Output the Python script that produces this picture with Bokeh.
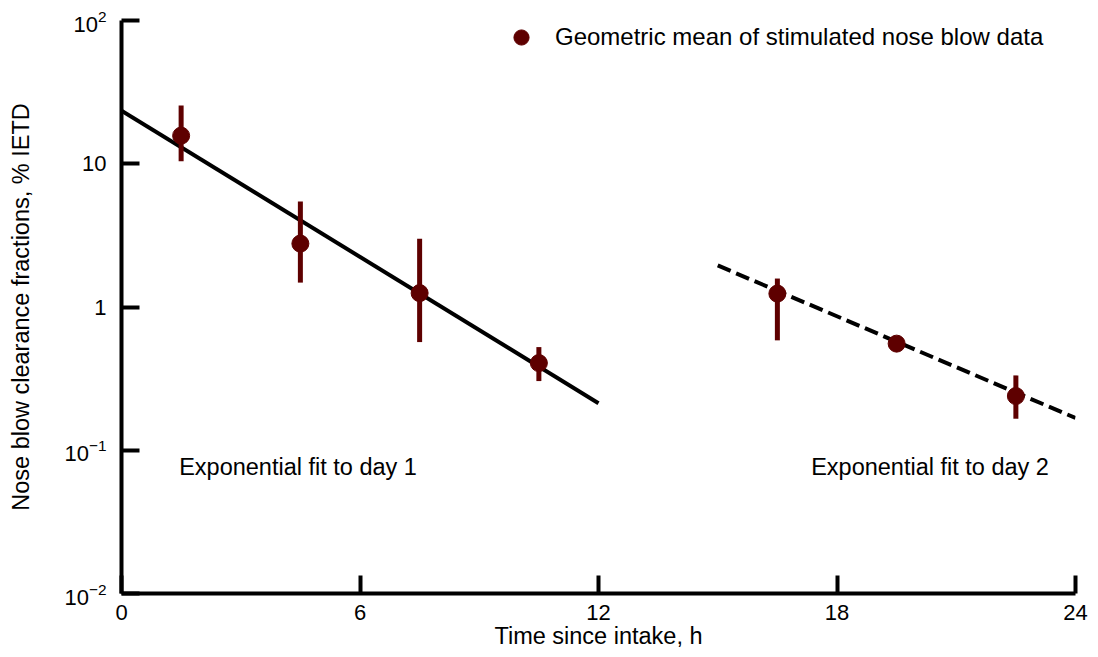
from bokeh.plotting import figure
from bokeh.models import FixedTicker, Legend, LegendItem, ColumnDataSource
from bokeh.core.properties import value
from bokeh.embed import file_html
from bokeh.resources import INLINE

# ---- data ----
time_h = [1.5, 4.5, 7.5, 10.5, 16.5, 19.5, 22.5]
geo_mean = [15.7, 2.77, 1.25, 0.406, 1.24, 0.555, 0.239]
err_low = [10.4, 1.48, 0.569, 0.304, 0.585, 0.555, 0.166]
err_high = [25.5, 5.46, 3.0, 0.525, 1.58, 0.555, 0.333]

fit_day1_t = [0, 12]
fit_day1_y = [23.5, 0.213]
fit_day2_t = [15, 24]
fit_day2_y = [1.95, 0.168]

x_ticks = [0, 6, 12, 18, 24]
y_ticks = [0.01, 0.1, 1, 10, 100]
# ticks 1 and 10 are written plainly; the others keep the 10^n form
y_plain_ticks = [1, 10]
y_plain_labels = ["1", "10"]

annot_text = ["Exponential fit to day 1", "Exponential fit to day 2"]
annot_x = [1.45, 17.35]
annot_y = [0.076, 0.076]

FONT = "Liberation Sans"
RED = "#5e0000"
TXT = "23.5px"
TICK = "22px"

p = figure(width=1098, height=657, x_range=(0, 24), y_range=(0.01, 100),
           y_axis_type="log", output_backend="svg", toolbar_location=None,
           min_border_left=121, min_border_right=23, min_border_top=20,
           min_border_bottom=64)
p.outline_line_color = None
p.xgrid.visible = False
p.ygrid.visible = False

src = ColumnDataSource(dict(t=time_h, m=geo_mean, lo=err_low, hi=err_high))

# fits
p.line(fit_day1_t, fit_day1_y, line_color="black", line_width=4)
p.line(fit_day2_t, fit_day2_y, line_color="black", line_width=4, line_dash="14 6")

# error bars and points
p.segment(x0="t", y0="lo", x1="t", y1="hi", source=src, line_color=RED, line_width=5)
pts = p.scatter(x="t", y="m", source=src, size=17, fill_color=RED, line_color=RED)

p.text(x=annot_x, y=annot_y, text=annot_text, text_font=value(FONT),
       text_font_size=TXT, text_baseline="middle", text_align="left",
       text_color="black")

# axes
for ax in (p.xaxis[0], p.yaxis[0]):
    ax.axis_line_width = 4
    ax.axis_line_color = "black"
    ax.major_tick_line_width = 4
    ax.major_tick_line_color = "black"
    ax.major_tick_in = 18
    ax.major_tick_out = 0
    ax.minor_tick_line_color = None
    ax.major_label_text_font = FONT
    ax.major_label_text_font_size = TICK
    ax.major_label_text_color = "black"
    ax.axis_label_text_font = FONT
    ax.axis_label_text_font_size = TXT
    ax.axis_label_text_font_style = "normal"
    ax.axis_label_text_color = "black"

p.xaxis.ticker = FixedTicker(ticks=x_ticks)
p.xaxis.axis_label = "Time since intake, h"
p.xaxis.major_label_standoff = 11
p.xaxis.axis_label_standoff = 0

p.yaxis.ticker = FixedTicker(ticks=y_ticks)
p.yaxis.major_label_overrides = {t: l for t, l in zip(y_plain_ticks, y_plain_labels)}
p.yaxis.axis_label = "Nose blow clearance fractions, % IETD"
p.yaxis.major_label_standoff = 15
p.yaxis.axis_label_standoff = 27

legend = Legend(items=[LegendItem(label="Geometric mean of stimulated nose blow data", renderers=[pts])],
                location=(381, 537), glyph_width=38, glyph_height=38, label_standoff=15,
                padding=0, margin=0, border_line_color=None, background_fill_alpha=0,
                label_text_font=FONT, label_text_font_size="24px", label_text_color="black")
p.add_layout(legend)

open("out.html", "w").write(file_html(p, INLINE))
